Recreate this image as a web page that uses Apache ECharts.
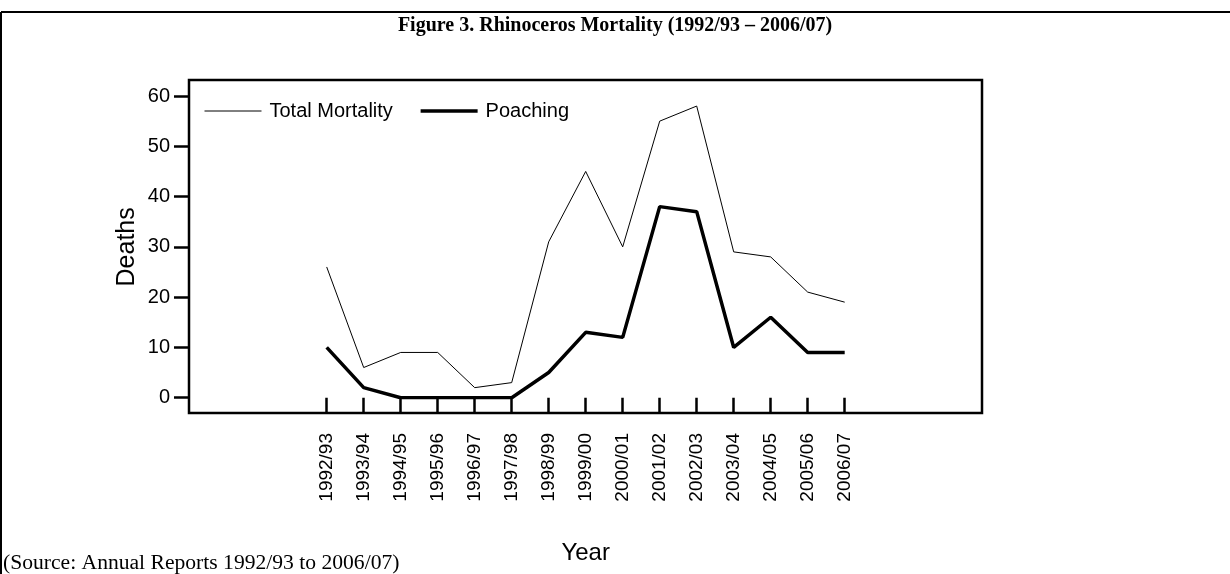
<!DOCTYPE html>
<html>
<head>
<meta charset="utf-8">
<script src="https://cdn.jsdelivr.net/npm/echarts@6/dist/echarts.min.js"></script>
<style>
html,body{margin:0;padding:0;background:#fff;}
#chart{width:1230px;height:574px;}
</style>
</head>
<body>
<div id="chart"></div>
<script>
const categories = ['1992/93','1993/94','1994/95','1995/96','1996/97','1997/98','1998/99','1999/00','2000/01','2001/02','2002/03','2003/04','2004/05','2005/06','2006/07'];
const totalMortality = [26, 6, 9, 9, 2, 3, 31, 45, 30, 55, 58, 29, 28, 21, 19];
const poaching = [10, 2, 0, 0, 0, 0, 5, 13, 12, 38, 37, 10, 16, 9, 9];
const yTicks = {min: 0, max: 60, interval: 10};

const sans = 'Liberation Sans, Arial, sans-serif';
const serif = 'Liberation Serif, Times New Roman, serif';

const chart = echarts.init(document.getElementById('chart'), null, {renderer: 'canvas'});
chart.setOption({
  animation: false,
  backgroundColor: '#fff',
  title: [
    {
      text: 'Figure 3. Rhinoceros Mortality (1992/93 – 2006/07)',
      left: 'center', top: 16, padding: 0,
      textStyle: {fontFamily: serif, fontWeight: 'bold', fontSize: 20, color: '#000'}
    },
    {
      text: '(Source: Annual Reports 1992/93 to 2006/07)',
      left: 3, top: 552, padding: 0,
      textStyle: {fontFamily: serif, fontWeight: 'normal', fontSize: 21.6, color: '#000'}
    }
  ],
  graphic: [
    {type: 'line', shape: {x1: 1, y1: 12, x2: 1230, y2: 12}, style: {stroke: '#000', lineWidth: 2}},
    {type: 'line', shape: {x1: 1, y1: 12, x2: 1, y2: 574}, style: {stroke: '#000', lineWidth: 2}}
  ],
  legend: {
    left: 204, top: 101, padding: 0,
    itemWidth: 57, itemHeight: 20, itemGap: 26,
    itemStyle: {opacity: 0},
    data: [
      {name: 'Total Mortality', lineStyle: {color: '#000', width: 1}},
      {name: 'Poaching', lineStyle: {color: '#000', width: 3.5}}
    ],
    textStyle: {fontFamily: sans, fontSize: 20, color: '#000', padding: [0, 0, 0, 3]}
  },
  grid: [
    {left: 189, top: 80, width: 793, height: 333, show: true, borderColor: '#000', borderWidth: 2.5, backgroundColor: 'transparent'},
    {left: 326.7, top: 96, width: 518, height: 301.7}
  ],
  xAxis: [
    {gridIndex: 0, type: 'value', show: false},
    {
      gridIndex: 1, type: 'category', data: categories, boundaryGap: false,
      position: 'bottom', offset: 15.3,
      axisLine: {show: false},
      axisTick: {show: true, length: 15, alignWithLabel: true, interval: 0, lineStyle: {color: '#000', width: 2.5}},
      axisLabel: {interval: 0, rotate: 90, margin: 20, fontFamily: sans, fontSize: 19, color: '#000'},
      splitLine: {show: false},
      name: 'Year', nameLocation: 'middle', nameGap: 128,
      nameTextStyle: {fontFamily: sans, fontSize: 24, color: '#000'}
    }
  ],
  yAxis: [
    {gridIndex: 0, type: 'value', show: false},
    {
      gridIndex: 1, type: 'value', min: yTicks.min, max: yTicks.max, interval: yTicks.interval,
      position: 'left', offset: 137.7,
      axisLine: {show: false},
      axisTick: {show: true, length: 15, lineStyle: {color: '#000', width: 2.5}},
      axisLabel: {margin: 19, fontFamily: sans, fontSize: 20, color: '#000'},
      splitLine: {show: false},
      name: 'Deaths', nameLocation: 'middle', nameGap: 49,
      nameTextStyle: {fontFamily: sans, fontSize: 25, color: '#000'}
    }
  ],
  series: [
    {
      name: 'Total Mortality', type: 'line', xAxisIndex: 1, yAxisIndex: 1,
      data: totalMortality, symbol: 'none', showSymbol: false,
      lineStyle: {color: '#000', width: 1}, itemStyle: {color: '#000'}
    },
    {
      name: 'Poaching', type: 'line', xAxisIndex: 1, yAxisIndex: 1,
      data: poaching, symbol: 'none', showSymbol: false,
      lineStyle: {color: '#000', width: 3.5}, itemStyle: {color: '#000'}
    }
  ]
});
</script>
</body>
</html>
